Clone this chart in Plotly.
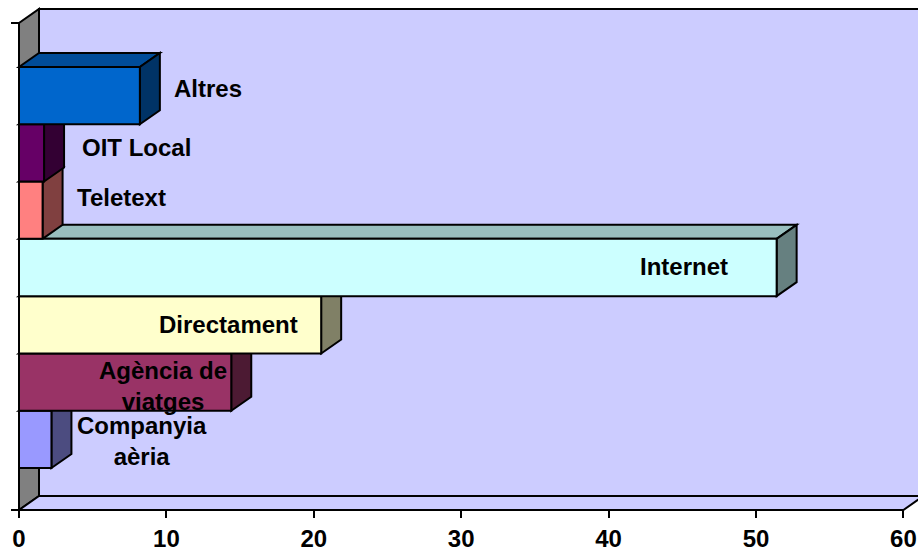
import plotly.graph_objects as go

# Share of travellers by booking channel (%)
categories = ["Companyia<br>aèria", "Agència de<br>viatges", "Directament", "Internet",
              "Teletext", "OIT Local", "Altres"]
values = [2.2, 14.4, 20.5, 51.4, 1.6, 1.7, 8.2]
tick_vals = [0, 10, 20, 30, 40, 50, 60]
tick_labels = ["0", "10", "20", "30", "40", "50", "60"]

front_colors = ["#9999FF", "#993366", "#FFFFCC", "#CCFFFF", "#FF8080", "#660066", "#0066CC"]

# ---- layout geometry (pixels -> axis units) ----
W, H = 918, 554
X0_PX = 19.0          # pixel column of value 0
PX_PER_X = 14.74      # pixels per percentage point
CAT0_PX = 439.4       # pixel row of the first category centre
PX_PER_CAT = 57.3     # pixels per category slot

def ypx(p):
    return (CAT0_PX - p) / PX_PER_CAT

X_RANGE = [-X0_PX / PX_PER_X, (W - X0_PX) / PX_PER_X]
Y_RANGE = [ypx(H), ypx(0)]

DX = 20 / PX_PER_X    # 3-D depth, horizontal
DY = 14 / PX_PER_CAT  # 3-D depth, vertical
FLOOR = ypx(510)
WALL_TOP = ypx(23)
TICK_X = -8 / PX_PER_X

LINE = dict(color="black", width=2)
FONT = "Liberation Sans, Arial, sans-serif"


def shade(hex_color, f):
    h = hex_color.lstrip("#")
    r, g, b = (int(h[i:i + 2], 16) for i in (0, 2, 4))
    return "#%02X%02X%02X" % (round(r * f), round(g * f), round(b * f))


def poly(points, fill):
    d = "M " + " L ".join(f"{x},{y}" for x, y in points) + " Z"
    return dict(type="path", path=d, xref="x", yref="y", fillcolor=fill,
                line=LINE, layer="below")


shapes = []
# back wall
shapes.append(dict(type="rect", xref="x", yref="y", x0=DX, x1=X_RANGE[1] + 5,
                   y0=FLOOR + DY, y1=WALL_TOP + DY, fillcolor="#CCCCFF",
                   line=LINE, layer="below"))
# side wall
shapes.append(poly([(0, FLOOR), (DX, FLOOR + DY), (DX, WALL_TOP + DY), (0, WALL_TOP)], "#808080"))
# floor
shapes.append(poly([(0, FLOOR), (60, FLOOR), (60 + DX, FLOOR + DY), (DX, FLOOR + DY)], "#CCCCFF"))

# top and side faces of each bar, bottom to top so upper bars overlap lower ones
for i, (v, c) in enumerate(zip(values, front_colors)):
    lo, hi = i - 0.5, i + 0.5
    shapes.append(poly([(0, hi), (v, hi), (v + DX, hi + DY), (DX, hi + DY)], shade(c, 0.75)))
    shapes.append(poly([(v, lo), (v + DX, lo + DY), (v + DX, hi + DY), (v, hi)], shade(c, 0.5)))

# axis lines and the upper tick of the category axis
shapes.append(dict(type="line", xref="x", yref="y", x0=TICK_X, x1=60, y0=FLOOR, y1=FLOOR,
                   line=LINE, layer="below"))
shapes.append(dict(type="line", xref="x", yref="y", x0=0, x1=0, y0=FLOOR, y1=WALL_TOP,
                   line=LINE, layer="below"))
shapes.append(dict(type="line", xref="x", yref="y", x0=TICK_X, x1=0, y0=WALL_TOP, y1=WALL_TOP,
                   line=LINE, layer="below"))

fig = go.Figure()
fig.add_trace(go.Bar(
    x=values, y=list(range(len(values))), orientation="h", width=1, base=0,
    marker=dict(color=front_colors, line=LINE),
    hoverinfo="skip", showlegend=False,
))

# data label placement: (x in %, y in category units, anchor)
label_pos = [
    (8.37, -0.02, "center"),
    (9.80, 0.93, "center"),
    (19.06, 2.005, "right"),
    (48.24, 3.01, "right"),
    (3.80, 4.23, "left"),
    (4.14, 5.09, "left"),
    (10.38, 6.13, "left"),
]
annotations = []
for text, (x, y, anchor) in zip(categories, label_pos):
    annotations.append(dict(
        x=x, y=y, xref="x", yref="y", text=text, showarrow=False,
        xanchor=anchor, yanchor="middle", align="center",
        font=dict(family=FONT, size=24, color="black", weight="bold"),
    ))

fig.update_layout(
    template="none",
    width=W, height=H, autosize=False,
    margin=dict(l=0, r=0, t=0, b=0, pad=0),
    paper_bgcolor="white", plot_bgcolor="white",
    shapes=shapes, annotations=annotations,
    showlegend=False,
    xaxis=dict(range=X_RANGE, anchor="free", position=(H - 510) / H,
               tickvals=tick_vals, ticktext=tick_labels,
               ticks="outside", ticklen=7, tickwidth=2, tickcolor="black",
               showline=False, showgrid=False, zeroline=False,
               tickfont=dict(family=FONT, size=24, color="black", weight="bold")),
    yaxis=dict(range=Y_RANGE, visible=False, showgrid=False, zeroline=False),
)

fig.write_html("out.html")
